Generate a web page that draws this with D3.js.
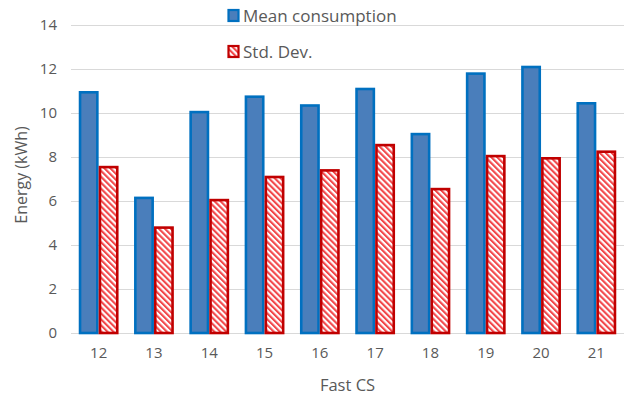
<!DOCTYPE html>
<html>
<head>
<meta charset="utf-8">
<script src="https://cdn.jsdelivr.net/npm/d3@7"></script>
<style>
  html, body { margin: 0; padding: 0; background: #fff; }
  svg { display: block; font-family: "Open Sans", "Segoe UI", sans-serif; }
</style>
</head>
<body>
<svg id="chart" width="625" height="400"></svg>
<script>
// Charging stations and their energy statistics (kWh)
const stations = ["12", "13", "14", "15", "16", "17", "18", "19", "20", "21"];
const meanConsumption = [11.0, 6.2, 10.1, 10.8, 10.4, 11.15, 9.1, 11.85, 12.15, 10.5];
const stdDev = [7.6, 4.85, 6.1, 7.15, 7.45, 8.6, 6.6, 8.1, 8.0, 8.3];
const seriesNames = ["Mean consumption", "Std. Dev."];
const yTicks = [0, 2, 4, 6, 8, 10, 12, 14];

const svg = d3.select("#chart");
const margin = { left: 71, right: 1, top: 25, bottom: 67 };
const W = 625, H = 400;

const x0 = d3.scaleBand()
  .domain(stations)
  .range([margin.left, W - margin.right])
  .paddingInner(0.28)
  .paddingOuter(0.14);

const x1 = d3.scaleBand()
  .domain(seriesNames)
  .range([0, x0.bandwidth()]);

const y = d3.scaleLinear()
  .domain([0, 14])
  .range([H - margin.bottom, margin.top]);

// Diagonal hatch (top-left to bottom-right) for the standard deviation bars
const defs = svg.append("defs");
const pat = defs.append("pattern")
  .attr("id", "hatch")
  .attr("patternUnits", "userSpaceOnUse")
  .attr("width", 4.2)
  .attr("height", 4.2)
  .attr("patternTransform", "rotate(-45)");
pat.append("rect").attr("width", 4.2).attr("height", 4.2).attr("fill", "#ffffff");
pat.append("rect").attr("width", 2.1).attr("height", 4.2).attr("fill", "#f2474a");

// Gridlines
const grid = svg.append("g");
grid.selectAll("line")
  .data(yTicks)
  .join("line")
  .attr("x1", margin.left)
  .attr("x2", W - margin.right)
  .attr("y1", d => Math.round(y(d)) + 0.5)
  .attr("y2", d => Math.round(y(d)) + 0.5)
  .attr("stroke", "#d9d9d9")
  .attr("stroke-width", 1);

// Y axis labels
const yAxis = d3.axisLeft(y).tickValues(yTicks).tickSize(0).tickPadding(0);
const yG = svg.append("g")
  .attr("transform", `translate(${margin.left - 14},0)`)
  .call(yAxis);
yG.select(".domain").remove();
yG.selectAll("text")
  .attr("fill", "#595959")
  .attr("font-size", "15px")
  .attr("font-family", "Open Sans, sans-serif");

// X axis labels
const xAxis = d3.axisBottom(x0).tickSize(0).tickPadding(0);
const xG = svg.append("g")
  .attr("transform", `translate(0,${H - margin.bottom + 14})`)
  .call(xAxis);
xG.select(".domain").remove();
xG.selectAll("text")
  .attr("fill", "#595959")
  .attr("font-size", "15px")
  .attr("font-family", "Open Sans, sans-serif");

// Bars
const sw = 2.6;
const series = [
  { name: seriesNames[0], values: meanConsumption, fill: "#4a7ebb", stroke: "#0070c0" },
  { name: seriesNames[1], values: stdDev, fill: "url(#hatch)", stroke: "#c00000" }
];

series.forEach(s => {
  svg.append("g")
    .selectAll("rect")
    .data(stations.map((st, i) => ({ st, v: s.values[i] })))
    .join("rect")
    .attr("x", d => x0(d.st) + x1(s.name) + sw / 2)
    .attr("y", d => y(d.v) + sw / 2)
    .attr("width", x1.bandwidth() - sw)
    .attr("height", d => y(0) - y(d.v) - sw / 2)
    .attr("fill", s.fill)
    .attr("stroke", s.stroke)
    .attr("stroke-width", sw);
});

// Legend
const legend = svg.append("g");
series.forEach((s, i) => {
  const ly = 16 + i * 36;
  legend.append("rect")
    .attr("x", 228.5)
    .attr("y", ly - 6)
    .attr("width", 10)
    .attr("height", 11)
    .attr("fill", s.fill)
    .attr("stroke", s.stroke)
    .attr("stroke-width", 2.2);
  legend.append("text")
    .attr("x", 243)
    .attr("y", ly + 6)
    .attr("fill", "#595959")
    .attr("font-size", "17px")
    .text(s.name);
});

// Axis titles
svg.append("text")
  .attr("x", (margin.left + W - margin.right) / 2)
  .attr("y", 391)
  .attr("text-anchor", "middle")
  .attr("fill", "#595959")
  .attr("font-size", "16.5px")
  .text("Fast CS");

svg.append("text")
  .attr("transform", `translate(27,${(y(0) + y(14)) / 2 - 4}) rotate(-90)`)
  .attr("text-anchor", "middle")
  .attr("fill", "#595959")
  .attr("font-size", "16px")
  .text("Energy (kWh)");
</script>
</body>
</html>
